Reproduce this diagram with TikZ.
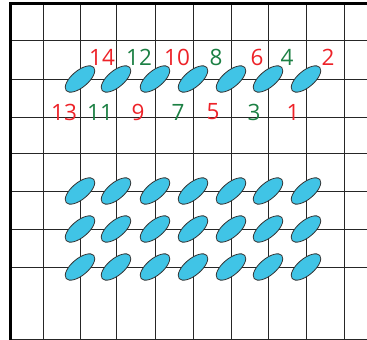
\documentclass[tikz,border=0pt]{standalone}
\usepackage{fontspec}
\setmainfont{Open Sans}
\usetikzlibrary{shapes.geometric}
\definecolor{seedblue}{RGB}{64,196,230}
\definecolor{numred}{RGB}{237,34,40}
\definecolor{numgreen}{RGB}{28,128,68}
\tikzset{
  seed/.style={ellipse, draw=black!80, line width=0.8pt, fill=seedblue, minimum width=36pt, minimum height=16.5pt, inner sep=0pt, rotate=40},
  gridln/.style={line width=1pt, draw=black!85},
  border/.style={line width=3pt, draw=black},
  oddnum/.style={text=numred, font=\fontsize{22.5}{24}\selectfont, inner sep=0pt},
  evennum/.style={text=numgreen, font=\fontsize{22.5}{24}\selectfont, inner sep=0pt}
}
\begin{document}
\begin{tikzpicture}[x=1pt,y=-1pt]
\useasboundingbox (0,0) rectangle (367,340);
% grid
\foreach \x in {43,80,116,155,193,231,268,306,344}
  \draw[gridln] (\x,3) -- (\x,339);
\foreach \y in {40,79,117,153,191,229,267,339}
  \draw[gridln] (10,\y) -- (367,\y);
\draw[border] (10.5,340) -- (10.5,3.5) -- (367,3.5);
% top row of seeds
\foreach \x [count=\i] in {80,116,155,193,231,268,306}
  \node[seed] (t\i) at (\x,79) {};
% lower rows
\foreach \y [count=\r] in {191,229,267}
  \foreach \x [count=\i] in {80,116,155,193,231,268,306}
    \node[seed] (s\r-\i) at (\x,\y) {};
% labels
\node[oddnum]  (n14) at (102,57) {14};
\node[evennum] (n12) at (139,57) {12};
\node[oddnum]  (n10) at (177,57) {10};
\node[evennum] (n8)  at (216,57) {8};
\node[oddnum]  (n6)  at (257,57) {6};
\node[evennum] (n4)  at (287,57) {4};
\node[oddnum]  (n2)  at (328,57) {2};
\node[oddnum]  (n13) at (64,112) {13};
\node[evennum] (n11) at (100,112) {11};
\node[oddnum]  (n9)  at (138,112) {9};
\node[evennum] (n7)  at (178,112) {7};
\node[oddnum]  (n5)  at (213,112) {5};
\node[evennum] (n3)  at (254,112) {3};
\node[oddnum]  (n1)  at (293,112) {1};
\end{tikzpicture}
\end{document}
